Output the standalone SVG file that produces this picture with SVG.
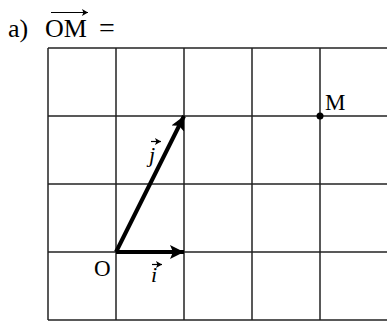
<svg xmlns="http://www.w3.org/2000/svg" width="387" height="322" viewBox="0 0 387 322">
<style>
.grid line{stroke:#222;stroke-width:1.5}
.vec{stroke:#000;stroke-width:4;fill:none}
.t{font-family:"Liberation Serif","Times New Roman",serif;fill:#000}
.it{font-style:italic}
.sm{stroke:#000;stroke-width:1.2;fill:none}
</style>
<defs>
<marker id="ah" markerUnits="userSpaceOnUse" markerWidth="16" markerHeight="14" refX="14" refY="7" orient="auto">
<path d="M0,0 L14,7 L0,14 L3,7 Z" fill="#000"/>
</marker>
<marker id="sh" markerUnits="userSpaceOnUse" markerWidth="7" markerHeight="7" refX="6" refY="3.5" orient="auto">
<path d="M0,0 L6,3.5 L0,7 L1.4,3.5 Z" fill="#000"/>
</marker>
</defs>
<g id="title">
<text class="t" x="8" y="37" font-size="26">a)</text>
<text class="t" x="45" y="37" font-size="26">OM</text>
<line class="sm" x1="51" y1="12.5" x2="88" y2="12.5" marker-end="url(#sh)" stroke-width="1.6"/>
<text class="t" x="99" y="37" font-size="28">=</text>
</g>
<g id="grid" class="grid">
<line x1="48" y1="48" x2="390" y2="48"/>
<line x1="48" y1="116" x2="390" y2="116"/>
<line x1="48" y1="184" x2="390" y2="184"/>
<line x1="48" y1="252" x2="390" y2="252"/>
<line x1="48" y1="320" x2="390" y2="320"/>
<line x1="48" y1="48" x2="48" y2="320"/>
<line x1="116" y1="48" x2="116" y2="320"/>
<line x1="184" y1="48" x2="184" y2="320"/>
<line x1="252" y1="48" x2="252" y2="320"/>
<line x1="320" y1="48" x2="320" y2="320"/>
</g>
<g id="connectors">
<line class="vec" x1="116" y1="252" x2="184" y2="252" marker-end="url(#ah)"/>
<line class="vec" x1="116" y1="252" x2="184" y2="116" marker-end="url(#ah)"/>
</g>
<g id="node-O">
<text class="t" x="94" y="276" font-size="23">O</text>
</g>
<g id="node-M">
<circle cx="320" cy="116" r="3.5" fill="#000"/>
<text class="t" x="325" y="110" font-size="23">M</text>
</g>
<g id="label-i">
<text class="t it" x="151" y="282" font-size="22">i</text>
<line class="sm" x1="152" y1="264.5" x2="162" y2="264.5" marker-end="url(#sh)"/>
</g>
<g id="label-j">
<text class="t it" x="149" y="162" font-size="22">j</text>
<line class="sm" x1="151" y1="141.5" x2="161" y2="141.5" marker-end="url(#sh)"/>
</g>
</svg>
